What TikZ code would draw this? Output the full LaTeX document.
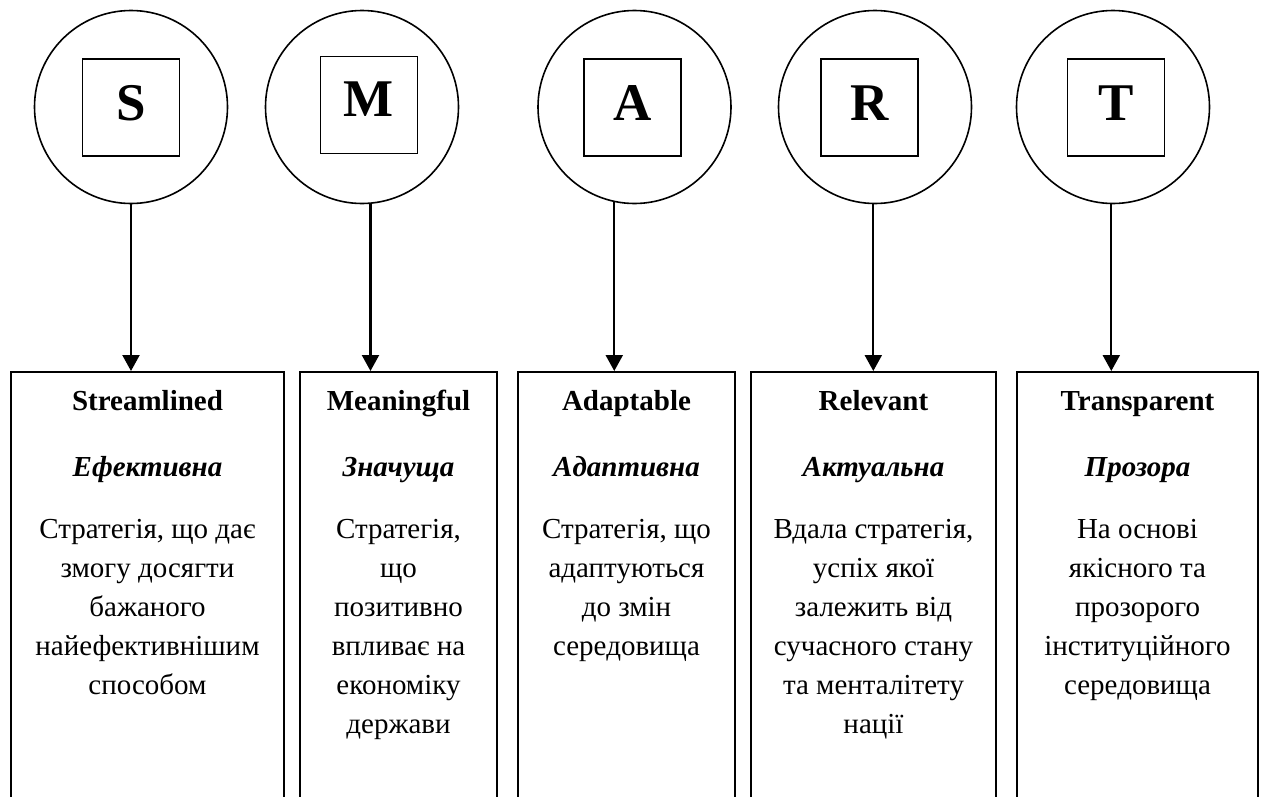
\documentclass[tikz,border=0pt]{standalone}
\usepackage{fontspec}
\setmainfont{Liberation Serif}
\usetikzlibrary{arrows.meta}
\tikzset{
  circ/.style={circle, draw, line width=1.6pt, minimum size=193pt, inner sep=0pt},
  sq/.style={rectangle, draw, line width=1.6pt, minimum size=97pt, inner sep=0pt},
  letter/.style={font=\fontsize{53}{60}\selectfont\bfseries, inner sep=0pt, anchor=base},
  panel/.style={rectangle, draw, line width=1.7pt, minimum height=480pt, anchor=north, inner sep=0pt},
  ttl/.style={font=\fontsize{29}{39}\selectfont\bfseries, inner sep=0pt, anchor=base},
  sub/.style={font=\fontsize{29}{39}\selectfont\bfseries\itshape, inner sep=0pt, anchor=base},
  body/.style={font=\fontsize{29}{39}\selectfont, inner sep=0pt, anchor=base},
  arr/.style={line width=2.2pt, -{Triangle[width=17pt,length=16pt]}}
}
\newcommand{\lines}[1]{\begin{tabular}[t]{@{}c@{}}#1\end{tabular}}
\begin{document}
\begin{tikzpicture}[x=1pt,y=-1pt]
\useasboundingbox (0,0) rectangle (1262,796);
\clip (0,0) rectangle (1262,796);
% circles
\node[circ] (cS) at (131,107) {};
\node[circ] (cM) at (362,107) {};
\node[circ] (cA) at (634.5,107) {};
\node[circ] (cR) at (875,107) {};
\node[circ] (cT) at (1113,107) {};
% squares
\node[sq] (qS) at (131,107.5) {};
\node[sq] (qM) at (369,105) {};
\node[sq] (qA) at (632.5,107.5) {};
\node[sq] (qR) at (869.5,107.5) {};
\node[sq] (qT) at (1116,107.5) {};
% letters
\node[letter] (lS) at (131,120) {S};
\node[letter] (lM) at (369,116) {M};
\node[letter] (lA) at (632.5,120) {A};
\node[letter] (lR) at (869.5,120) {R};
\node[letter] (lT) at (1116,120) {T};
% panels
\node[panel, minimum width=273pt] (pS) at (147.5,371) {};
\node[panel, minimum width=197pt] (pM) at (398.5,371) {};
\node[panel, minimum width=217pt] (pA) at (626.5,371) {};
\node[panel, minimum width=245pt] (pR) at (873.5,371) {};
\node[panel, minimum width=241pt] (pT) at (1137.5,371) {};
% arrows
\draw[arr] (cS.-90) -- (cS.-90 |- pS.north);
\draw[arr] (cM.-85.8) -- (cM.-85.8 |- pM.north);
\draw[arr] (cA.-102) -- (cA.-102 |- pA.north);
\draw[arr] (cR.-91.2) -- (cR.-91.2 |- pR.north);
\draw[arr] (cT.-91.2) -- (cT.-91.2 |- pT.north);
% titles
\node[ttl] (tS) at (147.5,410) {Streamlined};
\node[ttl] (tM) at (398.5,410) {Meaningful};
\node[ttl] (tA) at (626.5,410) {Adaptable};
\node[ttl] (tR) at (873.5,410) {Relevant};
\node[ttl] (tT) at (1137.5,410) {Transparent};
% subtitles
\node[sub] (sS) at (147.5,476) {Ефективна};
\node[sub] (sM) at (398.5,476) {Значуща};
\node[sub] (sA) at (626.5,476) {Адаптивна};
\node[sub] (sR) at (873.5,476) {Актуальна};
\node[sub] (sT) at (1137.5,476) {Прозора};
% bodies
\node[body] (bS) at (147.5,538) {\lines{Стратегія, що дає\\змогу досягти\\бажаного\\найефективнішим\\способом}};
\node[body] (bM) at (398.5,538) {\lines{Стратегія,\\що\\позитивно\\впливає на\\економіку\\держави}};
\node[body] (bA) at (626.5,538) {\lines{Стратегія, що\\адаптуються\\до змін\\середовища}};
\node[body] (bR) at (873.5,538) {\lines{Вдала стратегія,\\успіх якої\\залежить від\\сучасного стану\\та менталітету\\нації}};
\node[body] (bT) at (1137.5,538) {\lines{На основі\\якісного та\\прозорого\\інституційного\\середовища}};
\end{tikzpicture}
\end{document}
